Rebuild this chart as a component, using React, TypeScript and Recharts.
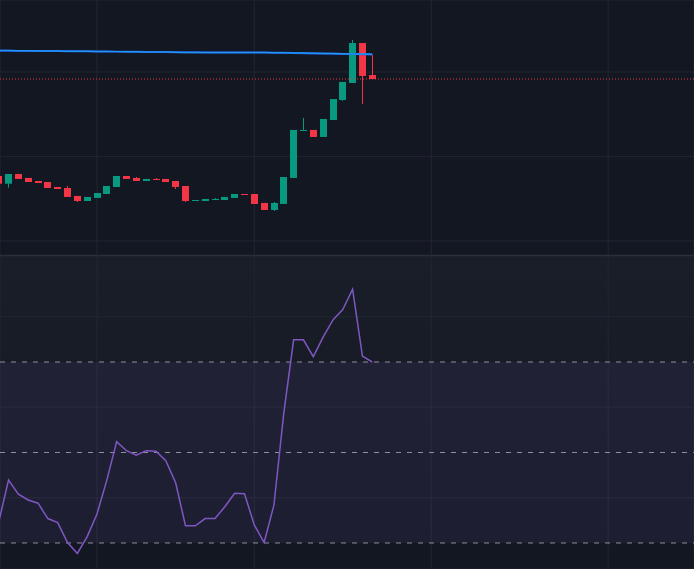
import { ComposedChart, LineChart, Bar, Line, XAxis, YAxis, CartesianGrid, ReferenceLine, ReferenceArea } from 'recharts';

// candle index, one per bar
const idx = Array.from({ length: 39 }, (_, i) => i);

const opens = [1.1769, 1.1678, 1.1793, 1.1746, 1.171, 1.1698, 1.1639, 1.1627, 1.1533, 1.1473, 1.1509, 1.1556, 1.1639, 1.1769, 1.1746, 1.171, 1.1734, 1.1734, 1.171, 1.1651, 1.1473, 1.1473, 1.1485, 1.1485, 1.1509, 1.1556, 1.1556, 1.145, 1.1367, 1.1438, 1.1746, 1.2302, 1.2314, 1.2231, 1.2432, 1.2669, 1.287, 1.3343, 1.2964];
const highs = [1.1769, 1.1793, 1.1793, 1.1746, 1.171, 1.1698, 1.1639, 1.1651, 1.1533, 1.1521, 1.1568, 1.1651, 1.1769, 1.1769, 1.1757, 1.1734, 1.1746, 1.1734, 1.171, 1.1651, 1.1485, 1.1497, 1.1509, 1.1521, 1.1556, 1.1556, 1.1556, 1.145, 1.1462, 1.1757, 1.2314, 1.2456, 1.2314, 1.2444, 1.268, 1.2882, 1.3379, 1.3343, 1.3201];
const lows = [1.1678, 1.1631, 1.1734, 1.1698, 1.1686, 1.1627, 1.1615, 1.1521, 1.1462, 1.1473, 1.1509, 1.1556, 1.1639, 1.1734, 1.171, 1.171, 1.1722, 1.1698, 1.1615, 1.1462, 1.1473, 1.1473, 1.1485, 1.1485, 1.1509, 1.1544, 1.1438, 1.1367, 1.1355, 1.1438, 1.1746, 1.2302, 1.2231, 1.2231, 1.2432, 1.2657, 1.287, 1.2621, 1.2917];
const closes = [1.1678, 1.1793, 1.1734, 1.1698, 1.1686, 1.1627, 1.1615, 1.1521, 1.1473, 1.1521, 1.1568, 1.1651, 1.1769, 1.1734, 1.171, 1.1734, 1.1722, 1.1698, 1.1639, 1.1473, 1.1485, 1.1497, 1.1497, 1.1521, 1.1556, 1.1544, 1.1438, 1.1367, 1.145, 1.1757, 1.2314, 1.2314, 1.2231, 1.2444, 1.268, 1.2882, 1.3343, 1.2953, 1.2917];

const maSlow = [1.325, 1.325, 1.3249, 1.3249, 1.3248, 1.3248, 1.3247, 1.3246, 1.3245, 1.3244, 1.3243, 1.3242, 1.3241, 1.324, 1.3239, 1.3238, 1.3237, 1.3236, 1.3235, 1.3234, 1.3233, 1.3232, 1.3232, 1.3231, 1.3231, 1.3231, 1.323, 1.323, 1.3229, 1.3227, 1.3224, 1.3222, 1.322, 1.3218, 1.3216, 1.3214, 1.3212, 1.321, 1.3208];
const maFast = [1.3254, 1.3253, 1.3252, 1.325, 1.3249, 1.3248, 1.3247, 1.3246, 1.3245, 1.3244, 1.3243, 1.3242, 1.3241, 1.324, 1.3239, 1.3238, 1.3237, 1.3236, 1.3234, 1.3232, 1.3231, 1.3231, 1.3231, 1.3231, 1.3231, 1.3231, 1.323, 1.323, 1.3229, 1.3228, 1.3226, 1.3224, 1.3222, 1.322, 1.3218, 1.3216, 1.3214, 1.3212, 1.321];

const rsi = [34.6, 43.9, 40.8, 39.5, 38.8, 35.4, 34.5, 30.1, 27.7, 31.4, 36.4, 43.9, 52.4, 50.4, 49.4, 50.4, 50.3, 48.2, 43.3, 33.8, 33.8, 35.4, 35.4, 38.0, 41.0, 40.9, 34.0, 30.1, 38.4, 58.7, 74.9, 74.9, 71.2, 75.5, 79.3, 81.6, 86.1, 71.3, 70.0];

const timeTicks = [10, 26, 44, 62];
const priceTicks = [1.1, 1.2, 1.3];
const rsiTicks = [40, 60, 80];
const rsiLevels = [30, 50, 70];

const candles = idx.map((i) => ({
  i,
  open: opens[i],
  high: highs[i],
  low: lows[i],
  close: closes[i],
  maSlow: maSlow[i],
  maFast: maFast[i],
}));
const rsiData = idx.map((i) => ({ i, rsi: rsi[i] }));

const UP = '#089981';
const DOWN = '#f23645';
const GRID = '#222631';
const xDomain: [number, number] = [0.132, 70.73];

const Candle = (props: any) => {
  const { x, y, width, height, payload } = props;
  const { open, close, high, low } = payload;
  const color = close >= open ? UP : DOWN;
  const h = Math.abs(height);
  const top = Math.min(y, y + height);
  const k = high > low ? h / (high - low) : 0;
  const bodyTop = top + (high - Math.max(open, close)) * k;
  const bodyH = Math.max(1, Math.abs(open - close) * k);
  const cx = Math.round(x + width / 2) + 0.5;
  return (
    <g>
      <line x1={cx} x2={cx} y1={top} y2={top + h} stroke={color} strokeWidth={1} />
      <rect x={cx - 3.5} y={bodyTop} width={7} height={bodyH} fill={color} />
    </g>
  );
};

export default function App() {
  return (
    <div style={{ position: 'absolute', left: 0, top: 0, width: 694, height: 569, background: '#131722', overflow: 'hidden' }}>
      <div style={{ position: 'absolute', left: 0, top: 0 }}>
        <ComposedChart width={694} height={255} data={candles} margin={{ top: 0, right: 0, bottom: 0, left: 0 }}>
          <CartesianGrid stroke={GRID} />
          <XAxis dataKey="i" type="number" domain={xDomain} ticks={timeTicks} allowDataOverflow hide />
          <YAxis type="number" domain={[1.0834, 1.3852]} ticks={priceTicks} allowDataOverflow hide />
          <Line dataKey="maSlow" stroke="#1e53e5" strokeWidth={2} dot={false} isAnimationActive={false} />
          <Line dataKey="maFast" stroke="#2196f3" strokeWidth={1.5} dot={false} isAnimationActive={false} />
          <ReferenceLine y={closes[closes.length - 1]} stroke={DOWN} strokeDasharray="1 2" />
          <Bar dataKey={(d: any) => [d.low, d.high]} barSize={7} shape={<Candle />} isAnimationActive={false} />
        </ComposedChart>
      </div>
      <div style={{ position: 'absolute', left: 0, top: 255, width: 694, height: 1, background: '#2a2e39' }} />
      <div style={{ position: 'absolute', left: 0, top: 256, width: 694, height: 313, background: 'linear-gradient(#1a1e29, #131722)' }}>
        <LineChart width={694} height={313} data={rsiData} margin={{ top: 0, right: 0, bottom: 0, left: 0 }}>
          <ReferenceArea y1={30} y2={70} fill="#7e57c2" fillOpacity={0.1} stroke="none" />
          <CartesianGrid stroke={GRID} />
          <XAxis dataKey="i" type="number" domain={xDomain} ticks={timeTicks} allowDataOverflow hide />
          <YAxis type="number" domain={[24.25, 93.43]} ticks={rsiTicks} allowDataOverflow hide />
          {rsiLevels.map((v) => (
            <ReferenceLine key={v} y={v} stroke="#8e919b" strokeDasharray="5 6" />
          ))}
          <Line dataKey="rsi" stroke="#7e57c2" strokeWidth={1.5} dot={false} isAnimationActive={false} />
        </LineChart>
      </div>
    </div>
  );
}
